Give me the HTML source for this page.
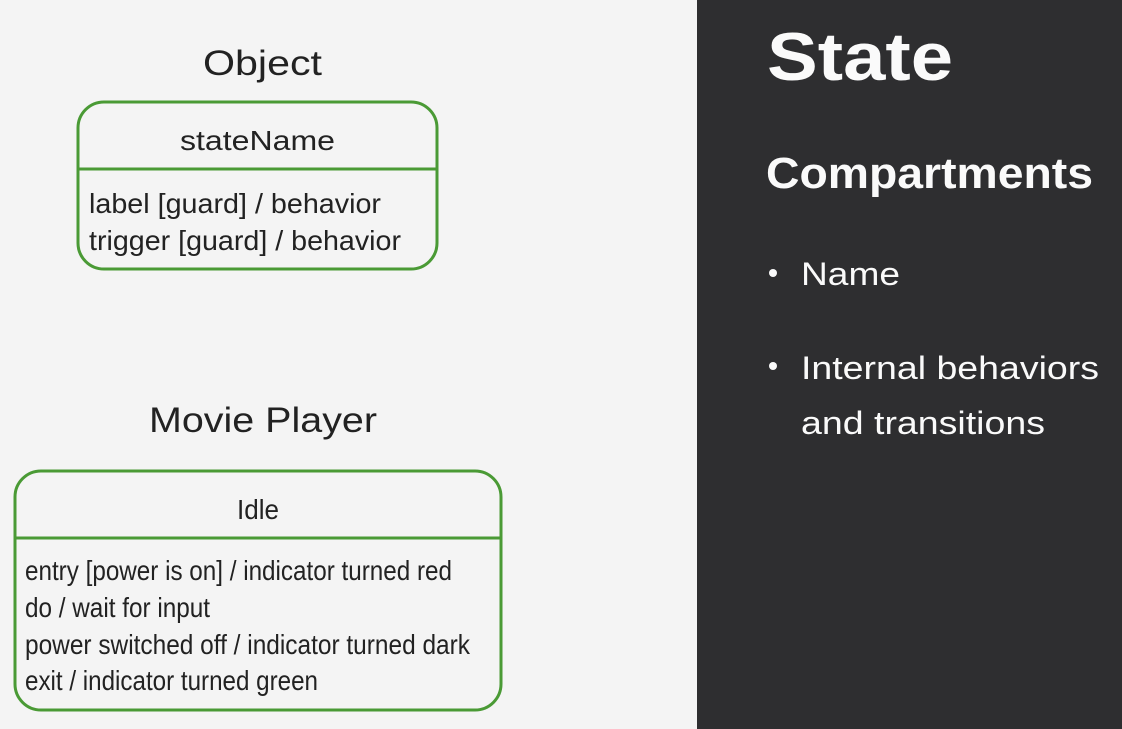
<!DOCTYPE html>
<html><head><meta charset="utf-8"><style>
html,body{margin:0;padding:0;}
body{width:1122px;height:729px;overflow:hidden;background:#f4f4f4;}
svg{display:block;}
</style></head><body>
<svg width="1122" height="729" viewBox="0 0 1122 729" xmlns="http://www.w3.org/2000/svg">
<rect x="0" y="0" width="697" height="729" fill="#f4f4f4"/>
<rect x="697" y="0" width="425" height="729" fill="#2e2e30"/>
<g font-family="Liberation Sans, sans-serif" fill="#222">
<text x="203" y="75" font-size="35" textLength="119" lengthAdjust="spacingAndGlyphs">Object</text>
<text x="149" y="432" font-size="35" textLength="228" lengthAdjust="spacingAndGlyphs">Movie Player</text>
</g>
<g fill="none" stroke="#4a9a35" stroke-width="3">
<rect x="78" y="102" width="359" height="167" rx="26"/>
<line x1="78" y1="169" x2="437" y2="169"/>
<rect x="15" y="471" width="486" height="239" rx="26"/>
<line x1="15" y1="538" x2="501" y2="538"/>
</g>
<g font-family="Liberation Sans, sans-serif" fill="#222" font-size="28">
<text x="180" y="150" textLength="155" lengthAdjust="spacingAndGlyphs">stateName</text>
<text x="89" y="213" textLength="292" lengthAdjust="spacingAndGlyphs">label [guard] / behavior</text>
<text x="89" y="250" textLength="312" lengthAdjust="spacingAndGlyphs">trigger [guard] / behavior</text>
<text x="237" y="519" textLength="42" lengthAdjust="spacingAndGlyphs">Idle</text>
<text x="25" y="580" textLength="427" lengthAdjust="spacingAndGlyphs">entry [power is on] / indicator turned red</text>
<text x="25" y="617" textLength="185" lengthAdjust="spacingAndGlyphs">do / wait for input</text>
<text x="25" y="654" textLength="445" lengthAdjust="spacingAndGlyphs">power switched off / indicator turned dark</text>
<text x="25" y="690" textLength="293" lengthAdjust="spacingAndGlyphs">exit / indicator turned green</text>
</g>
<g font-family="Liberation Sans, sans-serif" fill="#fafafa">
<text x="767" y="80" font-size="68" font-weight="bold" textLength="186" lengthAdjust="spacingAndGlyphs">State</text>
<text x="766" y="188" font-size="44" font-weight="bold" textLength="327" lengthAdjust="spacingAndGlyphs">Compartments</text>
<circle cx="773" cy="273" r="4"/>
<circle cx="773" cy="366" r="4"/>
<text x="801" y="285" font-size="32" textLength="99" lengthAdjust="spacingAndGlyphs">Name</text>
<text x="801" y="379" font-size="32" textLength="298" lengthAdjust="spacingAndGlyphs">Internal behaviors</text>
<text x="801" y="434" font-size="32" textLength="244" lengthAdjust="spacingAndGlyphs">and transitions</text>
</g>
</svg>
</body></html>
